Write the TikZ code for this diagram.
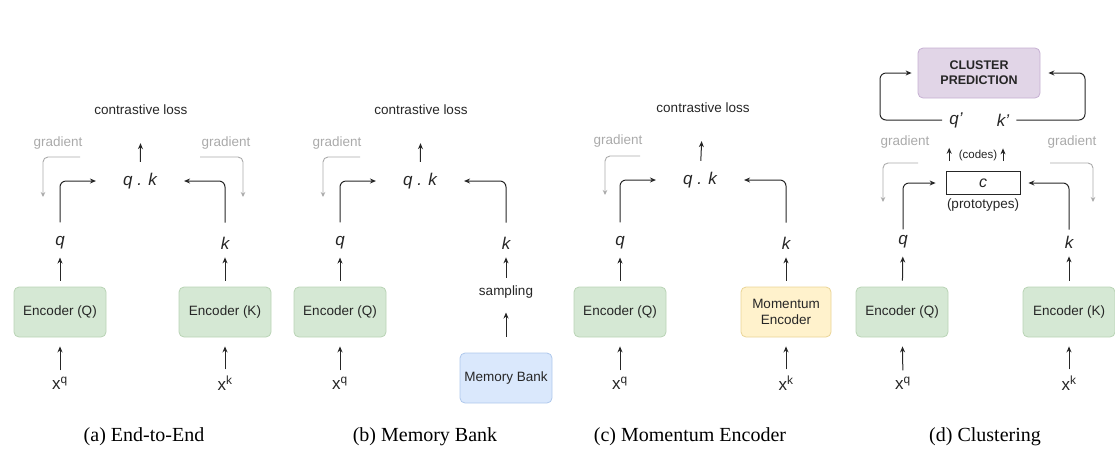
\documentclass[tikz,border=0pt]{standalone}
\usepackage{fontspec}
\setmainfont{Liberation Sans}
\newfontfamily\capfont{Liberation Serif}
\usepackage{tikz}
\usetikzlibrary{arrows.meta,positioning,calc}
\definecolor{encgreen}{HTML}{D5E8D4}
\definecolor{encgreenline}{HTML}{B9D4B5}
\definecolor{bankblue}{HTML}{DAE8FC}
\definecolor{bankblueline}{HTML}{AFC8EC}
\definecolor{momyellow}{HTML}{FFF2CC}
\definecolor{momyellowline}{HTML}{EAD496}
\definecolor{clusterpurple}{HTML}{E1D5E7}
\definecolor{clusterpurpleline}{HTML}{C6B0D3}
\definecolor{inkgray}{HTML}{262626}
\definecolor{gradgray}{HTML}{AAAAAA}

\begin{document}
\begin{tikzpicture}[x=1pt, y=-1pt,
  every node/.style={inner sep=0pt, text=inkgray, font=\fontsize{13.5}{16}\selectfont},
  enc/.style={draw=encgreenline, fill=encgreen, rounded corners=5pt, line width=0.8pt, minimum width=92pt, minimum height=50pt, align=center},
  bank/.style={enc, draw=bankblueline, fill=bankblue},
  mom/.style={enc, draw=momyellowline, fill=momyellow, minimum width=90pt},
  cluster/.style={draw=clusterpurpleline, fill=clusterpurple, rounded corners=5pt, line width=0.8pt, minimum width=122pt, minimum height=50pt, align=center, font=\bfseries\fontsize{12.5}{15}\selectfont},
  proto/.style={draw=inkgray, fill=white, line width=0.8pt, minimum width=74pt, minimum height=23pt, font=\itshape\fontsize{16}{18}\selectfont},
  vec/.style={font=\itshape\fontsize{17}{19}\selectfont},
  inp/.style={font=\fontsize{17}{19}\selectfont},
  grad/.style={text=gradgray},
  small/.style={font=\fontsize{11.5}{13}\selectfont},
  capt/.style={text=black, font=\capfont\fontsize{20}{24}\selectfont},
  arr/.style={draw=inkgray, line width=1pt, -{Stealth[length=6pt,width=5pt]}},
  elbow/.style={arr, rounded corners=6pt},
  gradarr/.style={draw=gradgray, line width=0.9pt, rounded corners=5pt, -{Stealth[length=5pt,width=4.5pt]}}
]
\useasboundingbox (0,0) rectangle (1115,459);

% (a) end-to-end
\node (aloss) at (141,110) {contrastive loss};
\node[vec] (aqk) at (140,181) {q . k};
\node[vec] (aq) at (60,243) {q};
\node[vec] (ak) at (225,243) {k};
\node[enc] (aencq) at (60,312) {Encoder (Q)};
\node[enc] (aenck) at (225,312) {Encoder (K)};
\node[inp] (axq) at (60,383) {x\textsuperscript{q}};
\node[inp] (axk) at (225,383) {x\textsuperscript{k}};
\node[grad] (agradl) at (58,143) {gradient};
\node[grad] (agradr) at (226,143) {gradient};
\coordinate (agl1) at (80,157); \coordinate (agl2) at (43,197);
\coordinate (agr1) at (200,157); \coordinate (agr2) at (243,197);
\draw[arr, shorten <=11pt, shorten >=28pt] (aqk) -- (aloss);
\draw[elbow, shorten <=14pt, shorten >=27pt] (aq) |- (aqk);
\draw[elbow, shorten <=14pt, shorten >=27pt] (ak) |- (aqk);
\draw[arr, shorten <=6pt, shorten >=8pt] (aencq) -- (aq);
\draw[arr, shorten <=6pt, shorten >=8pt] (aenck) -- (ak);
\draw[arr, shorten <=6pt, shorten >=9pt] (axq) -- (aencq);
\draw[arr, shorten <=6pt, shorten >=9pt] (axk) -- (aenck);
\draw[gradarr] (agl1) -| (agl2);
\draw[gradarr] (agr1) -| (agr2);
\node[capt] (acap) at (144,437) {(a) End-to-End};

% (b) memory bank
\node (bloss) at (421,110) {contrastive loss};
\node[vec] (bqk) at (420,181) {q . k};
\node[vec] (bq) at (340,243) {q};
\node[vec] (bk) at (506,243) {k};
\node[enc] (bencq) at (340,312) {Encoder (Q)};
\node (bsamp) at (506,292) {sampling};
\node[bank] (bbank) at (506,378) {Memory Bank};
\node[inp] (bxq) at (340,383) {x\textsuperscript{q}};
\node[grad] (bgradl) at (337,143) {gradient};
\coordinate (bgl1) at (360,157); \coordinate (bgl2) at (323,197);
\draw[arr, shorten <=11pt, shorten >=28pt] (bqk) -- (bloss);
\draw[elbow, shorten <=14pt, shorten >=27pt] (bq) |- (bqk);
\draw[elbow, shorten <=14pt, shorten >=27pt] (bk) |- (bqk);
\draw[arr, shorten <=6pt, shorten >=8pt] (bencq) -- (bq);
\draw[arr, shorten <=8pt, shorten >=8pt] (bsamp) -- (bk);
\draw[arr, shorten <=16pt, shorten >=14pt] (bbank) -- (bsamp);
\draw[arr, shorten <=6pt, shorten >=9pt] (bxq) -- (bencq);
\draw[gradarr] (bgl1) -| (bgl2);
\node[capt] (bcap) at (425,437) {(b) Memory Bank};

% (c) momentum encoder
\node (closs) at (703,108) {contrastive loss};
\node[vec] (cqk) at (700,180) {q . k};
\node[vec] (cq) at (620,243) {q};
\node[vec] (ck) at (786,243) {k};
\node[enc] (cencq) at (620,312) {Encoder (Q)};
\node[mom] (cmom) at (786,312) {Momentum\\Encoder};
\node[inp] (cxq) at (620,383) {x\textsuperscript{q}};
\node[inp] (cxk) at (786,383) {x\textsuperscript{k}};
\node[grad] (cgradl) at (618,141) {gradient};
\coordinate (cgl1) at (640,156); \coordinate (cgl2) at (605,195);
\draw[arr, shorten <=11pt, shorten >=28pt] (cqk) -- (closs);
\draw[elbow, shorten <=14pt, shorten >=27pt] (cq) |- (cqk);
\draw[elbow, shorten <=14pt, shorten >=27pt] (ck) |- (cqk);
\draw[arr, shorten <=6pt, shorten >=8pt] (cencq) -- (cq);
\draw[arr, shorten <=6pt, shorten >=8pt] (cmom) -- (ck);
\draw[arr, shorten <=6pt, shorten >=9pt] (cxq) -- (cencq);
\draw[arr, shorten <=6pt, shorten >=9pt] (cxk) -- (cmom);
\draw[gradarr] (cgl1) -| (cgl2);
\node[capt] (ccap) at (690,437) {(c) Momentum Encoder};

% (d) clustering
\node[cluster] (dcl) at (979,73) {CLUSTER\\PREDICTION};
\node[vec] (dqp) at (956,120) {q'};
\node[vec] (dkp) at (1003,120) {k'};
\node[small] (dcodes) at (978,156) {(codes)};
\node[proto] (dc) at (983,183) {c};
\node (dproto) at (983,205) {(prototypes)};
\node[vec] (dq) at (903,242) {q};
\node[vec] (dk) at (1069,242) {k};
\node[enc] (dencq) at (902,312) {Encoder (Q)};
\node[enc] (denck) at (1069,312) {Encoder (K)};
\node[inp] (dxq) at (903,383) {x\textsuperscript{q}};
\node[inp] (dxk) at (1069,383) {x\textsuperscript{k}};
\node[grad] (dgradl) at (905,142) {gradient};
\node[grad] (dgradr) at (1072,142) {gradient};
\coordinate (dlx) at (880,120); \coordinate (drx) at (1085,120);
\coordinate (dgl1) at (918,163); \coordinate (dgl2) at (883,202);
\coordinate (dgr1) at (1050,163); \coordinate (dgr2) at (1093,202);
\draw[elbow, shorten <=7pt, shorten >=6pt] (dqp) -- (dlx) |- (dcl);
\draw[elbow, shorten <=7pt, shorten >=8pt] (dkp) -- (drx) |- (dcl);
\draw[arr, shorten <=10pt, shorten >=20pt] (dc.north -| dqp.south west) -- (dqp.south west);
\draw[arr, shorten <=10pt, shorten >=22pt] (dc.north -| dkp) -- (dkp);
\draw[elbow, shorten <=6pt, shorten >=10pt] (dq) |- (dc);
\draw[elbow, shorten <=6pt, shorten >=8pt] (dk) |- (dc);
\draw[arr, shorten <=6pt, shorten >=8pt] (dencq) -- (dq);
\draw[arr, shorten <=6pt, shorten >=8pt] (denck) -- (dk);
\draw[arr, shorten <=6pt, shorten >=9pt] (dxq) -- (dencq);
\draw[arr, shorten <=6pt, shorten >=9pt] (dxk) -- (denck);
\draw[gradarr] (dgl1) -| (dgl2);
\draw[gradarr] (dgr1) -| (dgr2);
\node[capt] (dcap) at (985,437) {(d) Clustering};
\end{tikzpicture}
\end{document}
